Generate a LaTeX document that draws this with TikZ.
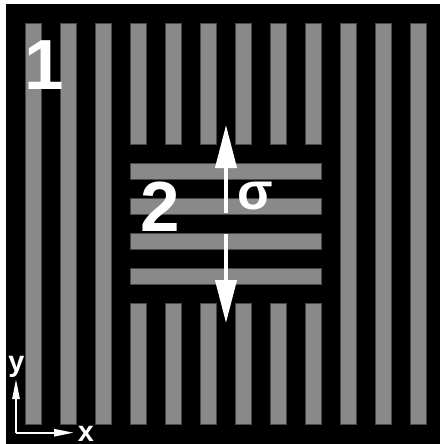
\documentclass[tikz,border=0pt]{standalone}
\usepackage{fontspec}
\setmainfont{Liberation Sans}
\usepackage{tikz}
\usetikzlibrary{arrows.meta}

\definecolor{stripegray}{RGB}{137,137,137}
\definecolor{stripeedge}{RGB}{72,72,72}

\tikzset{
  stripe/.style={fill=stripegray, draw=stripeedge, line width=0.25mm},
  biglabel/.style={text=white, inner sep=0pt, font=\fontsize{101}{101}\selectfont\bfseries},
  axislabel/.style={text=white, inner sep=0pt, font=\fontsize{41}{41}\selectfont\bfseries}
}

\begin{document}
\begin{tikzpicture}[x=0.5mm, y=-0.5mm, >={Triangle[length=21.5mm, width=10.5mm]}]
    \useasboundingbox (0,0) rectangle (440,444);
    \fill[white] (0,0) rectangle (440,444);
    \fill[black] (6,4) rectangle (440,444);

    % outer field (1): full vertical bars
    \foreach \i in {0,1,2,9,10,11}
        \draw[stripe] ({25.7+35*\i},23.3) rectangle ++(15.5,400.7);
    % inner columns, cut around field 2
    \foreach \i in {3,...,8} {
        \draw[stripe] ({25.7+35*\i},23.3) rectangle ++(15.5,120.7);
        \draw[stripe] ({25.7+35*\i},303.3) rectangle ++(15.5,120.7);
    }
    % inner field (2): horizontal bars
    \foreach \j in {0,...,3}
        \draw[stripe] (130.7,{163.3+35*\j}) rectangle ++(190.5,15.5);

    \node (one) [biglabel] at (44,65) {1};
    \node (two) [biglabel] at (160.5,206.5) {2};
    \node (sigma) [text=white, inner sep=0pt, font=\fontsize{74}{74}\selectfont\bfseries] at (255.5,196) {σ};

    \coordinate (upfoot) at (226,213);
    \coordinate (uptip) at (226,125);
    \coordinate (downfoot) at (226,234);
    \coordinate (downtip) at (226,323);
    \draw[->, white, line width=2mm] (upfoot) -- (uptip);
    \draw[->, white, line width=2mm] (downfoot) -- (downtip);

    % axes
    \coordinate (origin) at (16,432.7);
    \coordinate (ytip) at (16,379);
    \coordinate (xtip) at (74,432.7);
    \node (ylab) [axislabel] at (16.5,366.7) {y};
    \node (xlab) [axislabel] at (86,433.5) {x};
    \draw[-{Triangle[length=10mm, width=3.6mm]}, white, line width=1mm] (origin) -- (ytip);
    \draw[-{Triangle[length=10mm, width=3.6mm]}, white, line width=1mm] (origin) -- (xtip);
\end{tikzpicture}
\end{document}
